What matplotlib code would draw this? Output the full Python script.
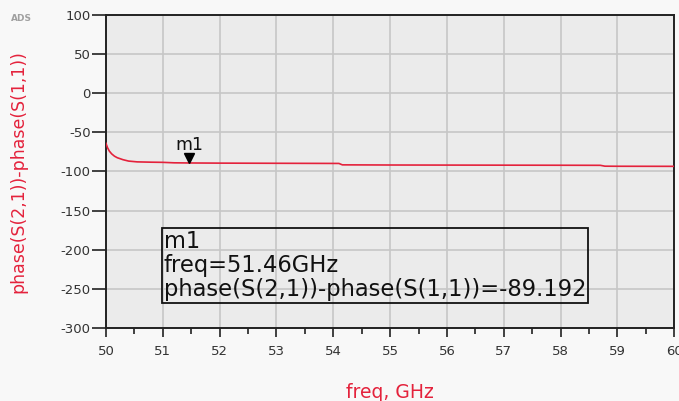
import matplotlib.pyplot as plt
import numpy as np

# phase difference trace read from the ADS sweep
freq = [50.0, 50.03, 50.06, 50.1, 50.15, 50.2, 50.3, 50.4, 50.55, 50.8, 51.0,
        51.2, 51.46, 52.0, 53.0, 54.1, 54.16, 55.0, 56.0, 57.0, 58.0, 58.7,
        58.78, 59.0, 60.0]
phase_diff = [-64.0, -70.0, -74.0, -77.5, -80.5, -82.5, -85.0, -86.8, -87.8, -88.2,
              -88.4, -89.0, -89.192, -89.4, -89.6, -89.8, -91.6, -91.8, -91.9,
              -92.0, -92.1, -92.2, -93.3, -93.4, -93.5]

m1_freq = 51.46
m1_val = -89.192

xticks = list(range(50, 61))
yticks = [100, 50, 0, -50, -100, -150, -200, -250, -300]

red = '#e4223c'
plt.rcParams['font.family'] = ['DejaVu Sans']
plt.rcParams['axes.unicode_minus'] = False

fig = plt.figure(figsize=(6.79, 4.01), dpi=100)
fig.patch.set_facecolor('#f8f8f8')
ax = fig.add_axes([0.156, 0.182, 0.837, 0.781])
ax.set_facecolor('#ebebeb')

ax.plot(freq, phase_diff, color=red, lw=1.2, zorder=3)

ax.set_xlim(50, 60)
ax.set_ylim(-300, 100)
ax.set_xticks(xticks)
ax.set_xticks(np.arange(50.5, 60, 1.0), minor=True)
ax.set_yticks(yticks)
ax.grid(True, color='#c6c6c6', lw=1.2, zorder=0)
ax.set_axisbelow(True)

ax.tick_params(axis='y', which='major', direction='out', length=10, width=1.2,
               color='#222222', labelsize=9.5, labelcolor='#333333', pad=1)
ax.tick_params(axis='x', which='major', direction='out', length=6.5, width=1.2,
               color='#222222', labelsize=9.5, labelcolor='#333333', pad=6)
ax.tick_params(axis='x', which='minor', direction='out', length=4, width=1.2,
               color='#222222')
for s in ax.spines.values():
    s.set_color('#222222')
    s.set_linewidth(1.4)

ax.set_xlabel('freq, GHz', color=red, fontsize=13.5, labelpad=18)
ax.set_ylabel('phase(S(2,1))-phase(S(1,1))', color=red, fontsize=12.5, labelpad=24)

# marker m1
ax.plot([m1_freq], [m1_val + 6], marker='v', color='black', ms=7, zorder=4)
ax.text(m1_freq, m1_val + 12, 'm1', ha='center', va='bottom', fontsize=12.5,
        color='#111111')

ax.text(51.02, -175, 'm1\nfreq=%.2fGHz\nphase(S(2,1))-phase(S(1,1))=%.3f' % (m1_freq, m1_val),
        ha='left', va='top', fontsize=16.3, color='#111111', linespacing=1.05,
        bbox=dict(boxstyle='square,pad=0.08', fc='none', ec='#111111', lw=1.3),
        zorder=5)

fig.text(0.016, 0.948, 'ADS', fontsize=6.5, color='#a0a0a0', fontweight='bold')

fig.savefig('out.png', dpi=100, facecolor=fig.get_facecolor())
